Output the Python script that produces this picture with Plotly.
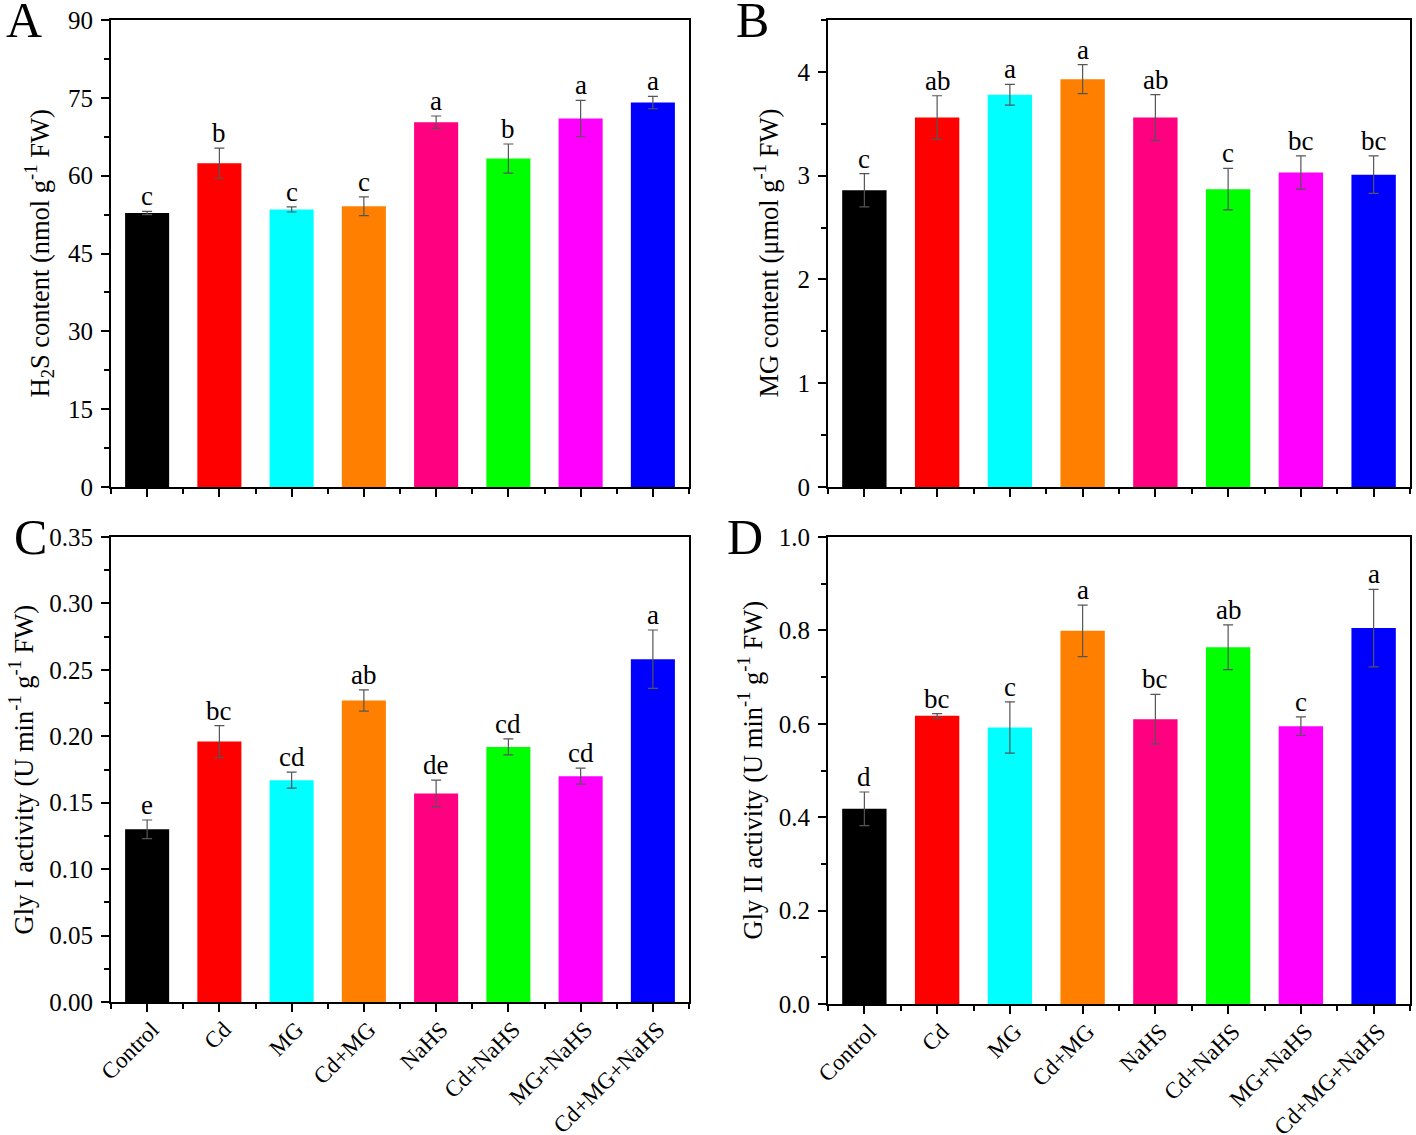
import plotly.graph_objects as go

categories = ["Control", "Cd", "MG", "Cd+MG", "NaHS", "Cd+NaHS", "MG+NaHS", "Cd+MG+NaHS"]
colors = ["#000000", "#FF0000", "#00FFFF", "#FF8000", "#FF0080", "#00FF00", "#FF00FF", "#0000FF"]

h2s_vals = [52.8, 62.4, 53.5, 54.1, 70.3, 63.3, 71.0, 74.1]
h2s_err = [0.3, 2.9, 0.5, 1.8, 1.2, 2.8, 3.5, 1.2]
h2s_letters = ["c", "b", "c", "c", "a", "b", "a", "a"]

mg_vals = [2.86, 3.56, 3.78, 3.93, 3.56, 2.87, 3.03, 3.01]
mg_err = [0.16, 0.21, 0.10, 0.14, 0.22, 0.20, 0.16, 0.18]
mg_letters = ["c", "ab", "a", "a", "ab", "c", "bc", "bc"]

gly1_vals = [0.130, 0.196, 0.167, 0.227, 0.157, 0.192, 0.170, 0.258]
gly1_err = [0.007, 0.012, 0.006, 0.008, 0.010, 0.006, 0.006, 0.022]
gly1_letters = ["e", "bc", "cd", "ab", "de", "cd", "cd", "a"]

gly2_vals = [0.418, 0.617, 0.592, 0.799, 0.610, 0.764, 0.595, 0.805]
gly2_err = [0.036, 0.005, 0.055, 0.055, 0.053, 0.048, 0.020, 0.083]
gly2_letters = ["d", "bc", "c", "a", "bc", "ab", "c", "a"]

FONT = "Liberation Serif"
W, H = 1416, 1135


def px(x):
    return x / W


def py(y):
    return 1 - y / H


panels = [
    dict(vals=h2s_vals, err=h2s_err, letters=h2s_letters, yr=[0, 90], dt=15,
         title="H<sub>2</sub>S content (nmol g<sup>-1</sup> FW)", fmt="",
         box=(111, 689, 487, 20), label="A", lab_xy=(24, 20), title_x=40, showx=False),
    dict(vals=mg_vals, err=mg_err, letters=mg_letters, yr=[0, 4.5], dt=1,
         title="MG content (μmol g<sup>-1</sup> FW)", fmt="",
         box=(828, 1410, 487, 20), label="B", lab_xy=(752, 20), title_x=767, showx=False),
    dict(vals=gly1_vals, err=gly1_err, letters=gly1_letters, yr=[0, 0.35], dt=0.05,
         title="Gly I activity (U min<sup>-1</sup> g<sup>-1</sup> FW)", fmt=".2f",
         box=(111, 689, 1002, 537), label="C", lab_xy=(30, 537), title_x=21, showx=True),
    dict(vals=gly2_vals, err=gly2_err, letters=gly2_letters, yr=[0, 1.0], dt=0.2,
         title="Gly II activity (U min<sup>-1</sup> g<sup>-1</sup> FW)", fmt=".1f",
         box=(828, 1410, 1004, 537), label="D", lab_xy=(745, 537), title_x=750, showx=True),
]

fig = go.Figure()
annotations = []
xpos = list(range(len(categories)))

for i, p in enumerate(panels):
    n = "" if i == 0 else str(i + 1)
    xa, ya = "x" + n, "y" + n
    x0, x1, yb, yt = p["box"]
    dom_x = [px(x0), px(x1)]
    dom_y = [py(yb), py(yt)]
    fig.add_trace(go.Bar(
        x=xpos, y=p["vals"], marker=dict(color=colors, line=dict(width=0)),
        width=0.61,
        error_y=dict(type="data", array=p["err"], color="#555555", thickness=1.2, width=5),
        xaxis=xa, yaxis=ya, showlegend=False,
    ))
    axis_common = dict(showline=True, linecolor="black", linewidth=2, mirror=True,
                       showgrid=False, zeroline=False, automargin=False,
                       ticklabeloverflow="allow")
    fig.layout["xaxis" + n] = dict(
        **axis_common, domain=dom_x, anchor=ya, range=[-0.5, 7.5],
        tickmode="array", tickvals=xpos,
        ticktext=categories if p["showx"] else [""] * len(categories),
        showticklabels=p["showx"], tickangle=-45,
        ticklabelstandoff=-5, ticklabelshift=5,
        ticks="outside", ticklen=8, tickwidth=1.5, tickcolor="black",
        tickfont=dict(family=FONT, size=23, color="black"),
        minor=dict(tickmode="array", tickvals=[k + 0.5 for k in range(-1, 8)],
                   ticks="outside", ticklen=5, tickwidth=1.5, tickcolor="black"),
    )
    fig.layout["yaxis" + n] = dict(
        **axis_common, domain=dom_y, anchor=xa, range=p["yr"],
        tick0=0, dtick=p["dt"], tickformat=p["fmt"],
        ticks="outside", ticklen=8, tickwidth=1.5, tickcolor="black",
        ticklabelstandoff=3,
        tickfont=dict(family=FONT, size=25, color="black"),
        minor=dict(dtick=p["dt"] / 2, ticks="outside", ticklen=5, tickwidth=1.5,
                   tickcolor="black"),
    )
    for k in xpos:
        annotations.append(dict(
            x=k, y=p["vals"][k] + p["err"][k], xref=xa, yref=ya, text=p["letters"][k],
            showarrow=False, yanchor="bottom", yshift=-2,
            font=dict(family=FONT, size=27, color="black")))
    annotations.append(dict(
        x=px(p["lab_xy"][0]), y=py(p["lab_xy"][1]), xref="paper", yref="paper",
        text=p["label"], showarrow=False, xanchor="center", yanchor="middle",
        font=dict(family=FONT, size=50, color="black")))
    cy = (dom_y[0] + dom_y[1]) / 2
    annotations.append(dict(
        x=px(p["title_x"]), y=cy, xref="paper", yref="paper", text=p["title"],
        showarrow=False, textangle=-90, xanchor="center", yanchor="middle",
        font=dict(family=FONT, size=26.5, color="black")))

fig.update_layout(
    width=W, height=H, margin=dict(l=0, r=0, t=0, b=0, autoexpand=False),
    paper_bgcolor="white", plot_bgcolor="white",
    annotations=annotations, bargap=0.39,
)

fig.write_html("out.html", config={"displayModeBar": False},
               post_script="document.body.style.margin = '0';")
